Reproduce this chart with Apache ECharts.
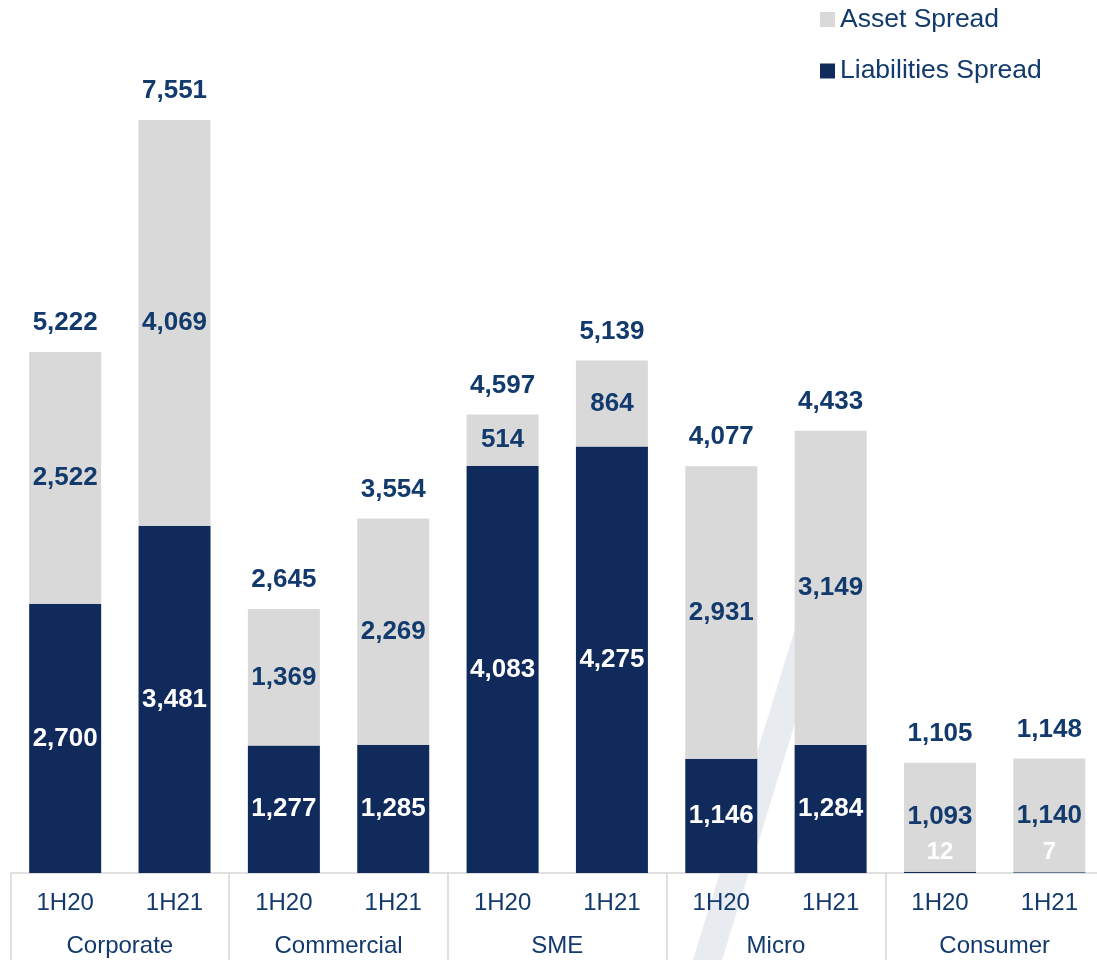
<!DOCTYPE html>
<html>
<head>
<meta charset="utf-8">
<script src="https://cdn.jsdelivr.net/npm/echarts@6/dist/echarts.min.js"></script>
<style>
html,body{margin:0;padding:0;background:#fff;}
#chart{width:1097px;height:960px;}
</style>
</head>
<body>
<div id="chart"></div>
<script>
const periods = ['1H20','1H21','1H20','1H21','1H20','1H21','1H20','1H21','1H20','1H21'];
const segments = ['Corporate','Commercial','SME','Micro','Consumer'];
const liabilitiesSpread = [2700, 3481, 1277, 1285, 4083, 4275, 1146, 1284, 12, 7];
const assetSpread = [2522, 4069, 1369, 2269, 514, 864, 2931, 3149, 1093, 1140];
const totals = [5222, 7551, 2645, 3554, 4597, 5139, 4077, 4433, 1105, 1148];

const NAVY = '#102b5b';
const GRAY = '#d9d9d9';
const TEXT = '#123a6d';
const FONT = '"Liberation Sans", Arial, sans-serif';

const fmt = v => Number(v).toLocaleString('en-US');

const liabData = liabilitiesSpread.map((v, i) => {
  if (v < 100) {
    return { value: v, label: { offset: [0, -20], fontSize: 24 } };
  }
  return v;
});

const chart = echarts.init(document.getElementById('chart'));
chart.setOption({
  animation: false,
  backgroundColor: '#fff',
  graphic: [{
    type: 'polygon',
    z: -10,
    silent: true,
    shape: { points: [[693, 960], [722, 960], [833, 600], [804, 600]] },
    style: { fill: '#e8ebf0' }
  }],
  legend: {
    data: ['Asset Spread', 'Liabilities Spread'],
    orient: 'vertical',
    left: 820,
    top: 6,
    padding: 0,
    icon: 'rect',
    itemWidth: 15,
    itemHeight: 15,
    itemGap: 24.5,
    textStyle: { fontSize: 26.5, color: TEXT, fontFamily: FONT }
  },
  grid: { left: 10.5, right: -7, top: 75, bottom: 87, outerBoundsMode: 'none', containLabel: false },
  xAxis: [{
    type: 'category',
    data: periods,
    position: 'bottom',
    axisLine: { show: false },
    axisTick: { show: false },
    axisLabel: { margin: 18, fontSize: 24, color: TEXT, fontFamily: FONT, interval: 0 }
  }, {
    type: 'category',
    data: segments,
    position: 'bottom',
    axisLine: { show: true, lineStyle: { color: '#d6d6d6', width: 1.5 } },
    axisTick: { show: true, length: 90, lineStyle: { color: '#d6d6d6', width: 1.5 } },
    axisLabel: { margin: 61, fontSize: 24, color: TEXT, fontFamily: FONT, interval: 0 }
  }],
  yAxis: {
    type: 'value',
    min: 0,
    max: 8000,
    show: false,
    splitLine: { show: false }
  },
  series: [{
    name: 'Liabilities Spread',
    type: 'bar',
    stack: 'spread',
    xAxisIndex: 0,
    barWidth: 72,
    barGap: '-100%',
    data: liabData,
    itemStyle: { color: NAVY },
    label: {
      show: true, position: 'inside', color: '#fff', fontWeight: 'bold',
      fontSize: 26, fontFamily: FONT, formatter: p => fmt(p.value)
    },
    z: 3
  }, {
    name: 'Asset Spread',
    type: 'bar',
    stack: 'spread',
    xAxisIndex: 0,
    barWidth: 72,
    barGap: '-100%',
    data: assetSpread,
    itemStyle: { color: GRAY },
    label: {
      show: true, position: 'inside', color: TEXT, fontWeight: 'bold',
      fontSize: 26, fontFamily: FONT, formatter: p => fmt(p.value)
    },
    z: 3
  }, {
    name: 'Total',
    type: 'bar',
    xAxisIndex: 0,
    barWidth: 72,
    barGap: '-100%',
    data: totals,
    itemStyle: { color: 'rgba(0,0,0,0)' },
    label: {
      show: true, position: 'top', distance: 16, color: TEXT, fontWeight: 'bold',
      fontSize: 26, fontFamily: FONT, formatter: p => fmt(p.value)
    },
    silent: true,
    z: 1
  }]
});
</script>
</body>
</html>
